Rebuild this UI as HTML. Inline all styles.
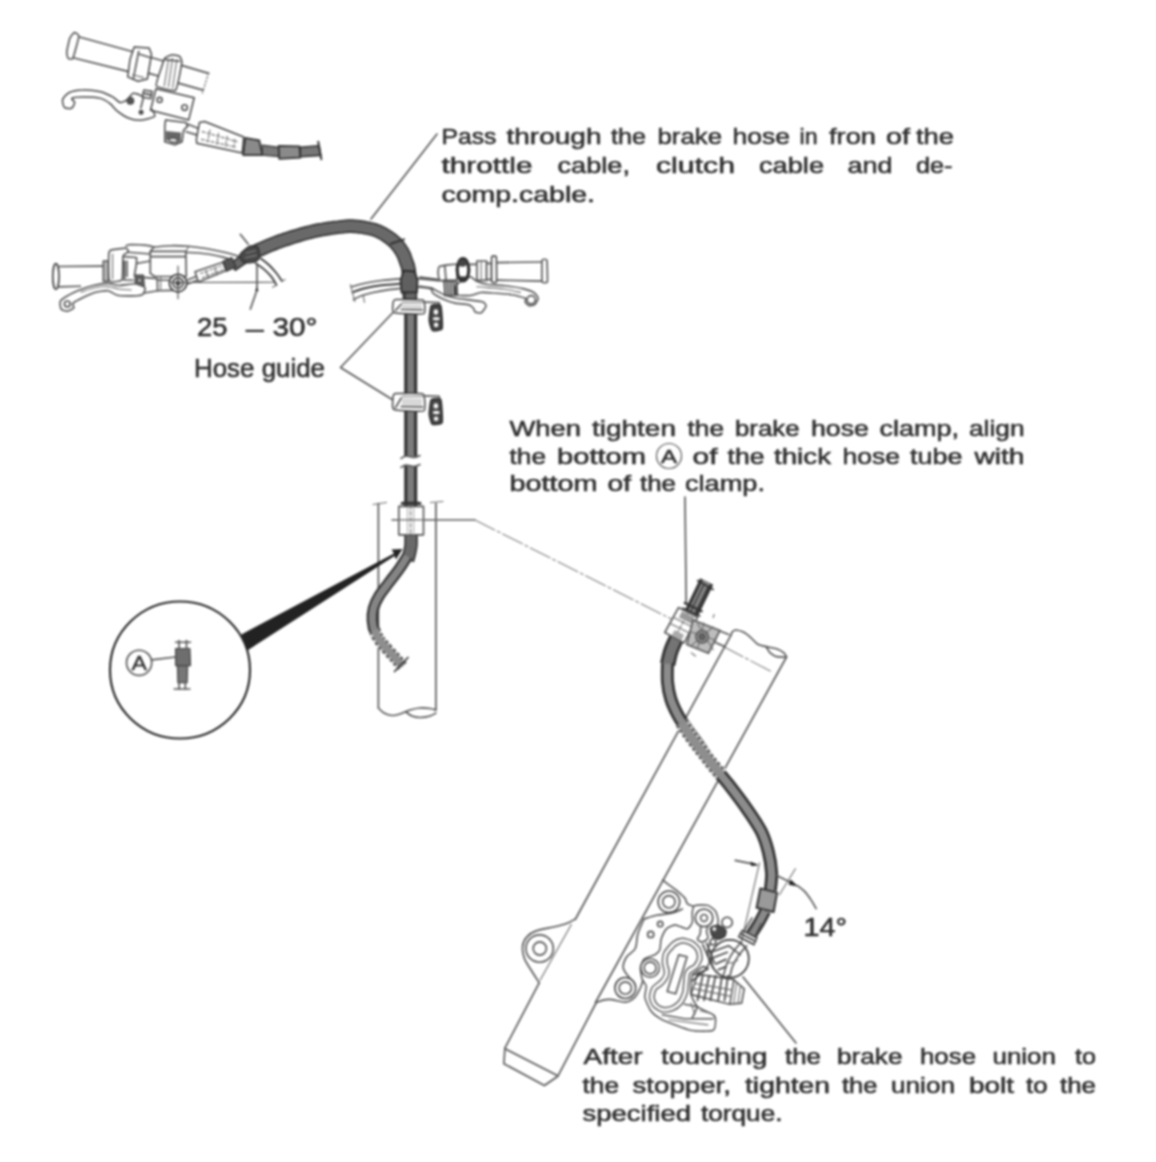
<!DOCTYPE html>
<html><head><meta charset="utf-8"><title>Brake hose routing</title>
<style>
html,body{margin:0;padding:0;background:#fff;}
body{width:1156px;height:1162px;overflow:hidden;font-family:"Liberation Sans",sans-serif;}
svg{display:block;filter:blur(0.8px);}
text{font-family:"Liberation Sans",sans-serif;fill:#2e2e2e;stroke:#2e2e2e;stroke-width:0.55px;}
.bt text{font-size:22px;}
.l{fill:none;stroke:#565656;stroke-width:1.65;vector-effect:non-scaling-stroke;stroke-linecap:round;stroke-linejoin:round;}
.lw{fill:#fff;stroke:#565656;stroke-width:1.65;vector-effect:non-scaling-stroke;stroke-linecap:round;stroke-linejoin:round;}
.d{fill:none;stroke:#333;stroke-width:1.7;vector-effect:non-scaling-stroke;stroke-linecap:round;stroke-linejoin:round;}
.t{fill:none;stroke:#6a6a6a;stroke-width:1.1;vector-effect:non-scaling-stroke;stroke-linecap:round;}
.g{fill:#777;stroke:#444;stroke-width:1.2;vector-effect:non-scaling-stroke;stroke-linejoin:round;}
.ho{fill:none;stroke:#3c3c3c;vector-effect:non-scaling-stroke;stroke-linecap:butt;stroke-linejoin:round;}
.hi{fill:none;stroke:#777;vector-effect:non-scaling-stroke;stroke-linecap:butt;stroke-linejoin:round;}
.k{fill:#222;stroke:none;}
</style></head><body>
<svg width="1156" height="1162" viewBox="0 0 1156 1162">
<rect width="1156" height="1162" fill="#fff"/>
<!-- draw_main.svgfrag -->
<path class="l" d="M437.0,134.0 L371.0,219.0" />
<path class="l" d="M393.5,312.0 L340.5,367.5 L393.0,400.0" />
<path class="l" d="M685.0,497.0 L686.2,604.0" />
<path class="l" d="M743.0,977.0 L796.0,1043.0" />
<path class="t" d="M392.0,520.0 L475.0,520.0" />
<path class="t" d="M475.0,520.0 L600.0,583.0 L668.5,617.6" stroke-dasharray="22 3 3 3" style="stroke:#808080"/>
<path class="t" d="M668.5,617.6 L772.0,672.0" stroke-dasharray="22 3 3 3" style="stroke:#808080"/>
<path class="l" d="M378.4,503.5 L378.4,708.0" />
<path class="l" d="M435.9,503.5 L435.9,710.0" />
<path class="t" d="M373.0,504.5 L386.5,502.5" />
<path class="t" d="M430.5,502.5 L443.0,501.5" />
<path class="l" d="M378.4,708.0 C379.3,708.8 381.7,711.8 384.0,713.0 C386.3,714.2 389.3,715.3 392.0,715.5 C394.7,715.7 397.0,714.9 400.0,714.0 C403.0,713.1 406.7,711.0 410.0,710.0 C413.3,709.0 416.7,708.2 420.0,708.0 C423.3,707.8 427.4,708.2 430.0,708.5 C432.6,708.8 434.9,709.8 435.9,710.0" />
<path class="l" d="M406.0,712.0 C407.0,712.7 409.7,715.1 412.0,716.0 C414.3,716.9 417.0,717.5 420.0,717.5 C423.0,717.5 427.4,716.8 430.0,716.0 C432.6,715.2 434.9,713.5 435.9,713.0" />
<path class="l" d="M731.0,635.2 L575.2,919.5" />
<path class="l" d="M539.2,982.8 L504.9,1048.2" />
<path class="l" d="M786.5,657.0 L595.5,1002.5" />
<path class="l" d="M731.0,635.2 C731.2,634.6 731.6,632.6 732.5,631.7 C733.3,630.8 734.2,630.0 736.0,630.0 C737.8,630.1 740.8,630.9 743.3,632.1 C745.7,633.3 748.1,635.3 750.5,637.3 C752.9,639.3 755.2,642.6 757.8,644.2 C760.4,645.7 763.0,645.9 766.1,646.6 C769.2,647.4 773.5,647.7 776.5,648.7 C779.4,649.8 782.3,651.5 783.9,652.9 C785.6,654.3 786.0,656.3 786.4,657.0" />
<path class="l" d="M766.1,646.6 C766.8,647.7 768.5,651.2 770.2,652.9 C772.0,654.5 773.8,655.9 776.5,656.6 C779.2,657.3 784.8,657.0 786.4,657.0" />
<path class="l" d="M504.9,1048.2 L503.9,1063.7 L544.4,1085.5 L557.9,1076.2 L596.3,1002.5" />
<path class="l" d="M506.0,1049.2 L556.8,1075.2" />
<path class="l" d="M574.5,919.4 C573.3,920.1 570.5,922.0 567.2,923.2 C563.9,924.4 559.9,925.4 554.7,926.7 C549.5,928.0 540.7,929.1 536.1,930.9 C531.4,932.6 529.0,934.5 526.7,937.1 C524.5,939.7 522.9,942.8 522.6,946.4 C522.2,950.1 523.1,954.7 524.6,958.9 C526.2,963.0 529.5,967.4 531.9,971.3 C534.3,975.3 538.0,980.9 539.2,982.8" />
<path class="t" d="M571.3,924.6 L540.2,980.1" />
<circle class="l" cx="539.6" cy="948.5" r="13.7" />
<circle class="l" cx="539.8" cy="948.5" r="6.6" />
<path d="M235.4,270.2 L235.9,269.9 L236.6,269.4 L237.3,268.9 L238.1,268.3 L239.0,267.7 L239.9,267.1 L240.8,266.4 L241.8,265.7 L242.8,265.0 L243.8,264.4 L244.7,263.8 L245.6,263.2 L246.6,262.6 L247.5,262.1 L248.3,261.7 L249.1,261.2 L249.9,260.9 L250.6,260.5 L251.4,260.1 L252.2,259.7 L253.1,259.4 L254.2,258.9 L255.4,258.4 L256.8,257.9 L258.3,257.1 L260.0,256.3 L261.9,255.5 L263.9,254.6 L266.0,253.6 L268.1,252.7 L270.4,251.8 L272.7,250.8 L275.0,249.9 L277.4,248.9 L279.7,248.0 L282.1,247.2 L284.5,246.3 L287.1,245.4 L289.7,244.6 L292.4,243.7 L295.2,242.8 L298.0,241.9 L300.7,241.1 L303.5,240.3 L306.2,239.5 L308.9,238.8 L311.5,238.1 L313.9,237.5 L316.3,236.9 L318.7,236.4 L321.1,235.9 L323.5,235.5 L325.9,235.1 L328.3,234.7 L330.5,234.3 L332.8,234.0 L334.9,233.7 L336.9,233.4 L338.9,233.2 L340.7,233.0 L342.4,232.8 L343.8,232.6 L345.1,232.5 L346.3,232.4 L347.4,232.3 L348.3,232.2 L349.3,232.2 L350.2,232.2 L351.1,232.2 L352.2,232.2 L353.3,232.3 L354.5,232.4 L355.9,232.5 L357.3,232.6 L358.8,232.8 L360.3,233.0 L361.9,233.2 L363.4,233.5 L365.0,233.8 L366.5,234.0 L367.9,234.3 L369.3,234.7 L370.6,235.0 L371.8,235.3 L372.8,235.6 L373.8,235.9 L374.6,236.3 L375.5,236.6 L376.3,237.0 L377.0,237.4 L377.8,237.8 L378.5,238.2 L379.3,238.6 L380.1,239.1 L380.9,239.6 L381.8,240.1 L382.6,240.7 L383.4,241.2 L384.2,241.8 L385.0,242.4 L385.8,243.0 L386.6,243.6 L387.3,244.2 L388.1,244.8 L388.8,245.4 L389.4,246.0 L390.1,246.6 L390.7,247.2 L391.3,247.8 L391.8,248.4 L392.4,249.1 L392.9,249.7 L393.4,250.4 L393.9,251.1 L394.4,251.8 L394.9,252.5 L395.3,253.2 L395.8,253.9 L396.2,254.6 L396.6,255.3 L396.9,255.9 L397.3,256.5 L397.6,257.1 L397.8,257.7 L398.1,258.4 L398.4,259.0 L398.6,259.7 L398.9,260.4 L399.1,261.1 L399.4,261.8 L399.7,262.6 L399.9,263.5 L400.3,264.4 L400.6,265.2 L400.8,265.9 L401.1,266.5 L401.3,267.0 L401.4,267.5 L401.6,268.0 L401.7,268.6 L401.9,269.3 L402.0,270.2 L402.2,271.3 L402.3,272.6 L402.5,274.3 L402.6,276.4 L402.7,278.8 L402.9,281.4 L403.0,284.1 L403.1,286.9 L403.2,289.6 L403.2,292.3 L403.3,294.8 L403.4,297.0 L403.5,298.8 L403.5,300.2 L416.5,299.8 L416.4,298.4 L416.4,296.5 L416.3,294.4 L416.2,291.9 L416.2,289.2 L416.1,286.4 L416.0,283.6 L415.8,280.8 L415.7,278.1 L415.6,275.6 L415.4,273.3 L415.3,271.4 L415.1,269.7 L414.9,268.2 L414.6,266.9 L414.4,265.7 L414.1,264.6 L413.8,263.6 L413.5,262.7 L413.2,261.9 L413.0,261.2 L412.7,260.6 L412.5,260.0 L412.3,259.3 L412.0,258.5 L411.7,257.7 L411.4,256.8 L411.1,256.0 L410.8,255.1 L410.5,254.2 L410.1,253.3 L409.7,252.4 L409.3,251.5 L408.8,250.6 L408.3,249.7 L407.8,248.7 L407.3,247.9 L406.7,247.0 L406.2,246.1 L405.6,245.2 L404.9,244.3 L404.3,243.4 L403.6,242.5 L402.9,241.6 L402.1,240.8 L401.4,239.9 L400.6,239.0 L399.7,238.2 L398.8,237.4 L398.0,236.6 L397.0,235.8 L396.1,235.0 L395.1,234.3 L394.2,233.6 L393.2,232.9 L392.2,232.2 L391.2,231.5 L390.2,230.9 L389.2,230.2 L388.2,229.7 L387.3,229.1 L386.3,228.6 L385.4,228.0 L384.4,227.5 L383.4,227.0 L382.4,226.5 L381.3,226.0 L380.2,225.5 L379.0,225.0 L377.7,224.6 L376.4,224.1 L375.0,223.7 L373.6,223.3 L372.0,223.0 L370.4,222.6 L368.8,222.3 L367.1,222.0 L365.4,221.7 L363.7,221.4 L362.0,221.1 L360.3,220.9 L358.6,220.7 L357.0,220.5 L355.5,220.4 L354.0,220.3 L352.7,220.2 L351.5,220.2 L350.2,220.2 L349.0,220.2 L347.8,220.2 L346.6,220.3 L345.3,220.4 L344.0,220.5 L342.5,220.7 L341.0,220.8 L339.3,221.0 L337.4,221.3 L335.5,221.5 L333.3,221.7 L331.1,222.0 L328.8,222.3 L326.4,222.7 L324.0,223.0 L321.5,223.5 L318.9,223.9 L316.3,224.4 L313.7,224.9 L311.1,225.5 L308.4,226.2 L305.7,226.9 L302.9,227.6 L300.1,228.4 L297.2,229.2 L294.4,230.1 L291.5,230.9 L288.6,231.8 L285.8,232.7 L283.1,233.6 L280.5,234.5 L277.9,235.4 L275.4,236.3 L272.9,237.3 L270.4,238.2 L267.9,239.2 L265.5,240.2 L263.2,241.2 L260.9,242.2 L258.8,243.2 L256.7,244.1 L254.7,245.0 L252.9,245.9 L251.2,246.7 L249.7,247.6 L248.4,248.5 L247.2,249.4 L246.1,250.2 L245.2,251.0 L244.4,251.8 L243.6,252.5 L242.9,253.2 L242.3,253.9 L241.7,254.5 L241.1,255.2 L240.4,255.8 L239.5,256.5 L238.6,257.3 L237.6,258.0 L236.6,258.8 L235.7,259.6 L234.7,260.3 L233.8,261.0 L233.0,261.7 L232.3,262.4 L231.6,262.9 L231.0,263.4 L230.6,263.8Z" fill="#696969" stroke="#333333" stroke-width="1.7" stroke-linejoin="round"/>
<path class="d" d="M390.8,243.8 L404.0,239.4" style="stroke-width:2"/>
<path class="ho" d="M410.7,312.0 L410.7,395.0" stroke-width="13" style="stroke:#333333"/><path class="hi" d="M410.7,312.0 L410.7,395.0" stroke-width="6.8" style="stroke:#7c7c7c"/>
<path class="ho" d="M410.7,410.0 L410.7,456.5" stroke-width="13" style="stroke:#333333"/><path class="hi" d="M410.7,410.0 L410.7,456.5" stroke-width="6.8" style="stroke:#7c7c7c"/>
<path class="ho" d="M410.7,466.0 L410.7,506.0" stroke-width="13" style="stroke:#333333"/><path class="hi" d="M410.7,466.0 L410.7,506.0" stroke-width="6.8" style="stroke:#7c7c7c"/>
<path class="l" d="M401.0,458.5 C401.8,458.1 403.8,456.2 406.0,456.0 C408.2,455.8 411.7,457.6 414.0,457.5 C416.3,457.4 419.0,455.8 420.0,455.5" />
<path class="l" d="M401.0,467.5 C401.8,467.1 403.8,465.2 406.0,465.0 C408.2,464.8 411.7,466.6 414.0,466.5 C416.3,466.4 419.0,464.8 420.0,464.5" />
<path class="ho" d="M411.0,534.5 C411.0,536.3 411.2,541.8 411.0,544.9 C410.8,548.0 410.1,550.6 409.5,553.2 C409.0,555.8 407.8,559.3 407.5,560.5" stroke-width="13.5" style="stroke:#333333"/><path class="hi" d="M411.0,534.5 C411.0,536.3 411.2,541.8 411.0,544.9 C410.8,548.0 410.1,550.6 409.5,553.2 C409.0,555.8 407.8,559.3 407.5,560.5" stroke-width="10.1" style="stroke:#696969"/>
<path class="ho" d="M407.5,556.0 C406.1,558.2 402.3,564.6 399.2,569.0 C396.1,573.4 392.5,577.9 389.1,582.4 C385.8,586.9 381.7,591.6 379.1,595.9 C376.5,600.2 374.6,604.1 373.5,608.2 C372.4,612.3 372.1,616.4 372.4,620.5 C372.7,624.6 373.3,628.7 375.2,632.8 C377.1,636.9 380.4,641.0 383.6,645.1 C386.9,649.2 391.6,653.9 394.7,657.4 C397.8,660.9 401.0,664.7 402.3,666.2" stroke-width="11.5" style="stroke:#333333"/><path class="hi" d="M407.5,556.0 C406.1,558.2 402.3,564.6 399.2,569.0 C396.1,573.4 392.5,577.9 389.1,582.4 C385.8,586.9 381.7,591.6 379.1,595.9 C376.5,600.2 374.6,604.1 373.5,608.2 C372.4,612.3 372.1,616.4 372.4,620.5 C372.7,624.6 373.3,628.7 375.2,632.8 C377.1,636.9 380.4,641.0 383.6,645.1 C386.9,649.2 391.6,653.9 394.7,657.4 C397.8,660.9 401.0,664.7 402.3,666.2" stroke-width="7.1" style="stroke:#858585"/>
<path class="ho" d="M706.7,581.5 L691.3,613.4" stroke-width="14.5" style="stroke:#333333"/><path class="hi" d="M706.7,581.5 L691.3,613.4" stroke-width="8.5" style="stroke:#858585"/>
<path class="ho" d="M676.4,638.3 C675.5,640.4 672.5,646.5 671.0,650.8 C669.5,655.1 668.2,662.0 667.7,664.3" stroke-width="15.5" style="stroke:#333333"/><path class="hi" d="M676.4,638.3 C675.5,640.4 672.5,646.5 671.0,650.8 C669.5,655.1 668.2,662.0 667.7,664.3" stroke-width="9.9" style="stroke:#747474"/>
<path class="ho" d="M667.5,663.3 C667.5,666.4 667.0,676.1 667.5,681.9 C668.0,687.8 668.9,693.0 670.6,698.5 C672.3,704.1 675.1,710.0 677.9,715.2 C680.6,720.3 684.0,725.0 687.2,729.7 C690.4,734.3 693.3,737.8 697.0,743.0 C700.7,748.2 704.1,754.0 709.3,760.8 C714.4,767.5 721.7,775.6 728.0,783.6 C734.2,791.6 741.1,800.6 746.6,808.5 C752.2,816.5 757.5,824.1 761.2,831.3 C764.8,838.6 766.7,845.2 768.4,852.1 C770.2,859.0 771.2,866.5 771.6,872.9 C771.9,879.3 770.5,887.6 770.3,890.5" stroke-width="13" style="stroke:#333333"/><path class="hi" d="M667.5,663.3 C667.5,666.4 667.0,676.1 667.5,681.9 C668.0,687.8 668.9,693.0 670.6,698.5 C672.3,704.1 675.1,710.0 677.9,715.2 C680.6,720.3 684.0,725.0 687.2,729.7 C690.4,734.3 693.3,737.8 697.0,743.0 C700.7,748.2 704.1,754.0 709.3,760.8 C714.4,767.5 721.7,775.6 728.0,783.6 C734.2,791.6 741.1,800.6 746.6,808.5 C752.2,816.5 757.5,824.1 761.2,831.3 C764.8,838.6 766.7,845.2 768.4,852.1 C770.2,859.0 771.2,866.5 771.6,872.9 C771.9,879.3 770.5,887.6 770.3,890.5" stroke-width="7.6" style="stroke:#8c8c8c"/>
<path class="g" d="M760.4,888.4 L777.1,892.6 L773.6,912.0 L756.6,907.8Z" style="fill:#9a9a9a;stroke:#333;stroke-width:2"/>
<path class="ho" d="M765.3,910.7 C764.4,912.5 761.9,917.6 759.5,921.7 C757.2,925.7 752.6,932.6 751.2,934.7" stroke-width="12" style="stroke:#333333"/><path class="hi" d="M765.3,910.7 C764.4,912.5 761.9,917.6 759.5,921.7 C757.2,925.7 752.6,932.6 751.2,934.7" stroke-width="7.0" style="stroke:#8a8a8a"/>
<path d="M681.5,722.5 C682.9,724.7 686.9,731.1 690.0,735.5 C693.1,739.9 696.7,744.5 700.0,748.8 C703.3,753.1 706.5,757.2 710.0,761.5 C713.5,765.8 719.2,772.3 721.0,774.5" fill="none" stroke="#fff" stroke-width="13.6"/><path d="M681.5,722.5 C682.9,724.7 686.9,731.1 690.0,735.5 C693.1,739.9 696.7,744.5 700.0,748.8 C703.3,753.1 706.5,757.2 710.0,761.5 C713.5,765.8 719.2,772.3 721.0,774.5" fill="none" stroke="#444" stroke-width="13" stroke-dasharray="3.2 2.2"/><path d="M681.5,722.5 C682.9,724.7 686.9,731.1 690.0,735.5 C693.1,739.9 696.7,744.5 700.0,748.8 C703.3,753.1 706.5,757.2 710.0,761.5 C713.5,765.8 719.2,772.3 721.0,774.5" fill="none" stroke="#8e8e8e" stroke-width="9.4"/>
<path d="M374.6,630.0 C375.2,631.4 377.0,636.0 378.5,638.5 C380.0,641.0 380.9,642.0 383.6,645.1 C386.3,648.2 391.6,653.9 394.7,657.4 C397.8,660.9 401.0,664.7 402.3,666.2" fill="none" stroke="#fff" stroke-width="12.1"/><path d="M374.6,630.0 C375.2,631.4 377.0,636.0 378.5,638.5 C380.0,641.0 380.9,642.0 383.6,645.1 C386.3,648.2 391.6,653.9 394.7,657.4 C397.8,660.9 401.0,664.7 402.3,666.2" fill="none" stroke="#444" stroke-width="11.5" stroke-dasharray="3.2 2.2"/><path d="M374.6,630.0 C375.2,631.4 377.0,636.0 378.5,638.5 C380.0,641.0 380.9,642.0 383.6,645.1 C386.3,648.2 391.6,653.9 394.7,657.4 C397.8,660.9 401.0,664.7 402.3,666.2" fill="none" stroke="#8e8e8e" stroke-width="7.9"/>
<path class="d" d="M394.5,671.5 L408.0,657.5" />
<ellipse cx="180" cy="670" rx="70" ry="68.5" fill="none" stroke="#2b2b2b" stroke-width="2.2"/>
<path class="k" d="M241.3,634.5 L394,553.5 L391.5,549.5 L402.5,549 L396,559.5 L394.5,556 L247.3,650.5 Z"/>
<!-- draw_tl.svgfrag -->
<path class="l" d="M78.5,36.8 L133.9,52.0" />
<path class="l" d="M73.0,57.8 L127.7,71.4" />
<path class="lw" d="M74.4,32.6 C75.3,32.4 78.7,34.5 78.8,36.1 C78.9,37.7 76.4,46.3 75.8,48.5 C75.2,50.8 73.5,57.5 72.7,58.5 C72.0,59.5 68.7,58.9 68.1,58.2 C67.6,57.6 66.6,54.0 66.8,52.0 C66.9,50.0 69.2,40.1 69.9,38.1 C70.7,36.2 73.5,32.8 74.4,32.6Z" />
<path class="l" d="M151.2,57.5 L164.3,61.3" />
<path class="l" d="M149.1,73.4 L160.2,76.5" />
<path class="l" d="M181.6,65.4 L208.6,73.4" />
<path class="l" d="M178.2,83.1 L203.1,90.1" />
<path class="t" d="M208.6,72.8 L202.4,93.1" stroke-dasharray="2 2"/>
<path class="lw" d="M134.2,47.1 L149.1,48.0 L151.5,54.3 L147.3,79.0 L138.0,81.2 L127.7,76.9 L130.0,59.6Z" style="stroke:#444;stroke-width:1.5"/>
<path class="l" d="M138.7,51.3 L133.2,79.3" />
<path class="l" d="M139.7,54.3 L150.8,57.7" />
<path class="t" d="M132.5,74.8 L143.6,77.6" />
<path class="lw" d="M164.6,58.5 C165.3,57.6 170.3,55.0 171.3,54.9 C172.3,54.7 178.9,55.8 179.6,56.3 C180.3,56.8 182.0,60.4 181.8,62.6 C181.5,64.9 177.4,88.5 175.7,90.1 C174.0,91.6 157.3,87.4 156.3,85.9 C155.4,84.4 160.7,69.7 161.3,67.9 C161.9,66.1 164.0,59.4 164.6,58.5Z" style="stroke:#444;stroke-width:1.5"/>
<path class="t" d="M168.5,59.6 L164.3,85.9" />
<path class="t" d="M172.6,58.2 L168.5,86.6" />
<path class="t" d="M176.8,59.6 L172.6,88.0" />
<path class="l" d="M165.7,59.6 L179.6,61.3" />
<path class="lw" d="M143.9,90.1 L152.2,91.4 L150.8,98.6 L142.2,97.0Z" />
<path class="d" d="M144.3,93.5 L151.2,94.9" />
<path class="lw" d="M156.0,88.7 L194.2,97.8 L188.7,119.9 L150.5,110.3Z" style="stroke:#444;stroke-width:1.5"/>
<circle class="l" cx="159.6" cy="99.9" r="2.5" />
<circle class="l" cx="184.6" cy="107.5" r="2.8" />
<path class="l" d="M138.0,94.2 C137.4,94.1 134.0,92.7 132.8,93.4 C131.5,94.0 128.7,98.7 127.2,99.7 C125.8,100.8 121.7,102.8 120.1,102.5 C118.4,102.2 115.4,98.5 113.1,97.2 C110.9,96.0 104.2,92.6 100.7,91.7 C97.1,90.9 86.4,89.9 82.7,90.1 C79.0,90.2 71.2,91.7 68.8,92.8 C66.5,94.0 63.1,98.0 62.6,99.7 C62.1,101.4 63.4,106.4 64.4,107.4 C65.5,108.4 70.4,108.9 71.6,108.3 C72.8,107.8 74.6,103.7 74.7,102.5 C74.7,101.3 70.9,99.0 71.9,98.4 C72.8,97.7 79.3,97.0 82.7,97.0 C86.0,97.0 97.4,97.5 100.7,98.4 C103.9,99.2 108.4,102.4 110.4,103.9 C112.3,105.4 115.2,109.4 117.3,111.1 C119.4,112.7 125.6,116.9 128.4,118.0 C131.1,119.1 137.7,120.4 140.8,120.2 C143.9,120.0 153.4,117.6 154.7,116.3 C155.9,115.1 152.2,110.2 151.9,109.4" style="stroke:#444;stroke-width:1.5"/>
<circle class="g" cx="130.4" cy="100.8" r="3.3" style="fill:#555"/>
<circle class="g" cx="141.1" cy="112.2" r="1.9" style="fill:#555"/>
<path class="l" d="M138.0,94.2 L143.6,97.0 L140.8,108.0" />
<path class="lw" d="M165.6,119.9 L185.8,122.4 L187.7,126.1 L183.6,130.2 L182.1,141.7 L174.9,144.8 L164.8,141.7 L164.8,126.1Z" style="stroke:#444;stroke-width:1.5"/>
<path class="g" d="M165.9,131.1 L181.1,132.4 L180.8,141.7 L165.9,140.2Z" style="fill:#666;stroke:none"/>
<ellipse class="lw" cx="173.4" cy="140.2" rx="4.4" ry="2.0" transform="rotate(8 173.4 140.2)" />
<path class="l" d="M187.4,124.0 L198.6,128.6" />
<path class="l" d="M186.1,131.7 L196.7,134.9" />
<path class="lw" d="M199.5,122.4 L204.5,121.5 L243.7,137.0 L242.2,152.9 L196.7,143.3 L196.4,138.9Z" style="stroke:#444;stroke-width:1.5"/>
<path class="t" d="M210.0,130.0 L207.6,141.7" stroke-dasharray="3 2"/>
<path class="t" d="M218.5,133.2 L217.0,144.1" stroke-dasharray="3 2"/>
<path class="t" d="M227.1,136.3 L225.5,146.4" stroke-dasharray="3 2"/>
<path class="t" d="M234.9,139.4 L233.8,148.7" stroke-dasharray="3 2"/>
<path class="t" d="M202.2,131.6 L237.2,141.7" stroke-dasharray="3 2"/>
<path class="t" d="M201.4,139.4 L235.6,147.2" stroke-dasharray="3 2"/>
<path class="g" d="M245.3,137.8 L259.3,140.5 L262.4,155.1 L243.1,155.1Z" style="fill:#8a8a8a;stroke:#333;stroke-width:1.8"/>
<path class="g" d="M262.1,145.1 L279.2,147.3 L279.2,156.7 L262.4,155.1Z" style="fill:#7a7a7a;stroke:#333"/>
<path class="g" d="M278.6,145.8 L299.5,146.4 L300.4,157.6 L279.2,158.8Z" style="fill:#8a8a8a;stroke:#333;stroke-width:1.8"/>
<path class="g" d="M300.3,147.3 L319.1,145.8 L320.7,155.4 L300.4,156.7Z" style="fill:#777;stroke:#333;stroke-width:1.6"/>
<path class="d" d="M318.2,141.7 L321.3,159.2" style="stroke-width:2"/>
<!-- draw_ml.svgfrag -->
<path class="l" d="M153.8,247.1 C156.7,246.9 165.3,245.9 171.1,245.7 C176.9,245.6 182.6,245.8 188.4,246.2 C194.2,246.7 199.9,247.5 205.7,248.5 C211.5,249.4 217.5,250.7 223.0,252.0 C228.5,253.2 236.0,255.4 238.6,256.1" />
<path class="l" d="M185.8,252.3 C189.1,252.5 199.5,252.9 205.7,253.7 C211.9,254.5 218.4,256.0 223.0,257.1 C227.6,258.3 231.7,260.0 233.4,260.6" />
<ellipse class="lw" cx="55.9" cy="276.5" rx="3.1" ry="12.8" transform="rotate(0 55.9 276.5)" style="stroke:#444;stroke-width:1.7"/>
<path class="l" d="M57.8,266.5 L102.8,266.1" />
<path class="l" d="M57.8,286.9 L80.3,286.2" />
<path class="lw" d="M103.3,261.0 L108.0,261.0 L108.0,281.4 L103.3,281.4Z" />
<path class="t" d="M105.4,261.0 L105.4,281.4" />
<path class="lw" d="M110.6,250.2 C112.0,249.7 124.7,248.0 126.1,248.1 C127.6,248.3 128.5,251.3 128.2,252.0 C127.9,252.6 123.5,253.8 123.0,256.1 C122.5,258.4 123.0,277.5 122.0,279.6 C121.0,281.8 112.0,281.8 110.9,281.7 C109.8,281.6 109.0,280.6 108.8,278.3 C108.7,275.9 108.7,256.4 108.8,254.0 C109.0,251.7 109.1,250.7 110.6,250.2Z" />
<path class="t" d="M112.6,254.0 L112.6,279.1" />
<path class="l" d="M126.1,245.7 C127.0,245.5 127.9,244.6 131.3,244.5 C134.8,244.5 143.1,244.9 146.9,245.4 C150.6,245.8 152.7,246.8 153.8,247.1" />
<path class="l" d="M128.2,252.3 L150.3,254.0" />
<path class="l" d="M123.5,256.6 L136.5,257.5 L136.5,263.5 L150.3,261.0" />
<path class="d" d="M124.4,261.0 L124.4,278.3" />
<path class="l" d="M127.0,261.0 L127.0,276.5" />
<path class="l" d="M136.5,263.5 L134.4,275.7" />
<path class="l" d="M123.5,280.0 L133.0,280.3" />
<path class="lw" d="M150.3,251.4 L185.8,251.4 L186.3,276.5 L154.7,276.5 L150.3,273.4Z" />
<path class="l" d="M151.2,256.6 L185.3,256.6" />
<path class="l" d="M153.8,247.1 L150.3,251.4" />
<path class="t" d="M185.8,251.4 L188.4,247.1" />
<path class="l" d="M143.4,277.4 L157.3,278.6 L157.6,290.7 L144.3,293.0" />
<path class="l" d="M157.6,280.0 L171.1,280.3" />
<path class="l" d="M157.6,290.7 L172.8,290.4" />
<path class="t" d="M160.7,277.4 L160.7,290.4" />
<path class="g" d="M135.1,275.1 L143.4,275.1 L144.3,286.0 L135.1,285.2Z" style="fill:#666"/>
<circle class="l" cx="139.6" cy="280.3" r="2.4" style="fill:#bbb"/>
<path class="lw" d="M144.3,286.9 C143.1,286.1 137.7,284.0 134.8,283.8 C131.8,283.6 122.3,285.6 119.2,285.5 C116.1,285.5 111.0,283.4 108.0,283.4 C104.9,283.4 96.8,284.7 93.3,285.5 C89.7,286.4 80.7,289.5 77.7,290.7 C74.7,291.9 69.3,294.7 67.3,295.9 C65.3,297.1 61.1,299.6 60.4,301.1 C59.7,302.6 60.3,307.9 61.1,309.0 C61.9,310.2 65.8,311.3 67.3,311.1 C68.8,311.0 73.2,308.6 73.9,307.7 C74.6,306.7 71.1,304.5 73.4,302.8 C75.6,301.1 89.2,294.4 93.3,293.0 C97.3,291.5 105.2,290.5 108.0,290.7 C110.7,291.0 114.3,294.4 116.6,295.0 C118.9,295.6 124.9,295.9 127.9,295.9 C130.8,295.9 139.7,295.7 141.7,295.0 C143.7,294.4 144.5,291.3 144.8,290.4 C145.1,289.4 145.5,287.7 144.3,286.9Z" />
<circle class="l" cx="67.3" cy="303.9" r="2.9" />
<path class="t" d="M81.1,292.1 C83.4,291.4 90.5,288.7 95.0,287.8 C99.5,286.8 103.9,286.4 108.0,286.6 C112.0,286.8 115.3,288.4 119.2,289.0 C123.1,289.6 129.3,289.8 131.3,290.0" />
<circle class="lw" cx="178.0" cy="283.1" r="8.7" style="stroke:#333"/>
<circle class="l" cx="178.0" cy="283.1" r="5.2" style="stroke:#333;stroke-width:1.6"/>
<circle class="g" cx="178.0" cy="283.1" r="2.1" style="fill:#555"/>
<path class="t" d="M178.0,266.1 L178.0,298.7" style="stroke:#444"/>
<path class="t" d="M170.0,282.5 L275.0,282.3" style="stroke:#555"/>
<path class="l" d="M186.7,280.3 L196.2,276.5" />
<path class="l" d="M187.0,284.3 L197.4,280.3" />
<path class="lw" d="M195.0,271.7 L223.0,262.3 L226.1,270.5 L198.4,282.1Z" />
<path class="t" d="M200.5,273.4 L221.3,266.1" stroke-dasharray="3 2"/>
<path class="t" d="M202.2,277.9 L223.0,269.6" stroke-dasharray="3 2"/>
<path class="t" d="M205.7,270.5 L208.3,278.3" />
<path class="t" d="M214.4,267.5 L217.0,275.1" />
<path class="g" d="M223.0,261.3 L231.7,257.5 L236.0,267.0 L226.5,271.3Z" style="fill:#555;stroke:#333"/>
<path class="d" d="M260.9,258.5 C262.4,259.6 266.9,263.0 269.5,265.5 C272.1,268.0 274.4,270.7 276.5,273.3 C278.6,275.9 281.0,279.8 282.0,281.1" style="stroke:#3a3a3a;stroke-width:1.8"/>
<path class="d" d="M255.5,263.2 C256.8,264.1 260.7,266.4 263.3,268.6 C265.9,270.8 268.9,273.7 271.1,276.4 C273.3,279.1 275.6,283.5 276.5,285.0" style="stroke:#3a3a3a;stroke-width:1.8"/>
<path class="t" d="M272.6,287.3 L276.5,285.0" />
<path class="t" d="M282.0,281.1 L285.1,279.5" />
<path class="l" d="M240.3,234.3 L248.1,244.1" />
<path class="l" d="M257.0,263.9 L257.0,287.3" />
<path class="k" d="M256.9,286.5 L258.6,291.2 L255.1,291.2Z"/>
<path class="l" d="M256.3,292.0 L250.4,309.1" />
<path class="g" d="M245.8,248.7 C246.8,247.9 249.2,246.0 250.4,245.9 C251.6,245.7 256.9,246.1 257.8,247.2 C258.8,248.3 259.9,255.5 259.8,256.9 C259.6,258.3 257.3,260.6 256.3,261.2 C255.3,261.8 251.1,262.8 249.6,262.8 C248.2,262.8 242.8,262.0 241.9,261.2 C240.9,260.4 239.5,255.8 239.9,254.6 C240.3,253.3 244.7,249.6 245.8,248.7Z" style="fill:#484848;stroke:#2e2e2e"/>
<path class="t" d="M246.1,253.0 L255.5,250.7" style="stroke:#888"/>
<path class="t" d="M245.4,257.7 L256.3,255.4" style="stroke:#888"/>
<!-- draw_mr.svgfrag -->
<path class="l" d="M351.4,286.9 C353.7,286.3 359.9,284.3 364.9,283.2 C369.9,282.1 375.3,281.2 381.5,280.5 C387.8,279.7 396.6,279.0 402.3,278.6 C408.0,278.3 409.5,278.1 415.8,278.4 C422.0,278.8 435.7,280.3 439.7,280.7" />
<path class="d" d="M352.5,292.3 C354.5,291.6 360.1,289.3 364.9,288.2 C369.8,287.0 375.3,286.0 381.5,285.3 C387.8,284.5 398.8,283.9 402.3,283.6" style="stroke:#3a3a3a;stroke-width:2"/>
<path class="l" d="M353.5,299.6 C355.1,298.9 358.2,296.7 362.8,295.2 C367.5,293.8 374.9,292.0 381.5,290.9 C388.1,289.7 398.8,288.6 402.3,288.2" />
<path class="l" d="M416.8,286.9 C418.2,287.1 422.4,287.3 425.1,287.8 C427.9,288.2 432.0,289.1 433.4,289.4" />
<path class="t" d="M350.4,284.6 L352.9,293.6" />
<path class="t" d="M352.9,294.4 L354.9,301.5" />
<path class="t" d="M363.3,296.1 L364.5,302.3" />
<path class="l" d="M420.0,277.1 L443.0,280.1" />
<path class="l" d="M420.0,286.2 L432.1,288.1" />
<path class="lw" d="M432.1,288.6 C433.2,288.7 441.8,293.7 444.2,294.7 C446.6,295.6 453.7,297.7 456.3,298.3 C459.0,298.8 468.2,299.7 470.9,300.1 C473.5,300.5 481.5,301.3 483.0,301.9 C484.5,302.5 486.2,305.1 486.0,306.2 C485.8,307.3 482.3,312.3 481.2,312.8 C480.1,313.4 475.9,312.3 475.1,311.9 C474.3,311.4 474.0,308.7 473.3,308.0 C472.6,307.3 470.3,305.1 468.4,304.6 C466.6,304.1 457.5,303.6 455.1,303.1 C452.7,302.6 446.4,300.5 444.2,299.5 C442.0,298.5 434.5,294.5 433.3,293.4 C432.1,292.4 431.0,288.5 432.1,288.6Z" />
<path class="lw" d="M469.7,276.7 C471.7,276.4 475.1,280.6 476.9,281.3 C478.7,282.1 485.0,284.0 487.8,284.5 C490.6,284.9 501.3,285.3 504.8,285.7 C508.3,286.1 520.0,287.9 522.9,288.6 C525.8,289.3 532.3,291.5 533.8,292.5 C535.4,293.4 538.0,297.1 538.1,298.3 C538.2,299.5 536.0,303.6 535.1,304.3 C534.1,305.1 530.0,305.8 529.0,305.6 C528.0,305.3 525.5,302.6 525.1,301.9 C524.8,301.2 526.7,299.0 525.4,298.3 C524.1,297.6 515.3,295.2 512.0,294.7 C508.8,294.1 495.8,293.2 492.7,293.0 C489.5,292.7 482.7,292.2 480.6,292.5 C478.4,292.7 473.3,295.1 470.9,295.4 C468.4,295.6 457.8,295.9 456.3,294.9 C454.9,293.9 455.0,286.8 456.3,285.0 C457.7,283.1 467.6,277.1 469.7,276.7Z" />
<circle class="lw" cx="531.2" cy="299.7" r="4.1" />
<path class="t" d="M476.9,286.8 C478.7,286.9 483.2,287.2 487.8,287.6 C492.5,288.0 499.3,288.4 504.8,289.2 C510.2,290.0 517.9,291.9 520.5,292.5" />
<path class="lw" d="M439.4,266.6 C440.6,266.0 455.2,263.5 456.3,264.4 C457.5,265.3 457.4,279.3 456.3,280.4 C455.2,281.4 441.2,280.8 440.0,280.4 C438.8,279.9 438.2,274.4 438.2,273.5 C438.1,272.5 438.2,267.2 439.4,266.6Z" />
<path class="l" d="M444.8,265.8 L446.0,280.1" />
<path class="d" d="M444.2,280.4 L445.2,295.3" style="stroke:#333;stroke-width:1.7"/>
<path class="d" d="M447.2,280.4 L448.2,295.3" style="stroke:#333;stroke-width:1.7"/>
<path class="d" d="M450.3,280.4 L451.2,295.3" style="stroke:#333;stroke-width:1.7"/>
<path class="d" d="M453.3,280.4 L454.3,295.3" style="stroke:#333;stroke-width:1.7"/>
<path class="d" d="M456.3,280.4 L457.3,295.3" style="stroke:#333;stroke-width:1.7"/>
<path class="l" d="M443.6,280.4 L456.9,280.4" />
<path class="l" d="M444.8,295.6 L457.5,295.3" />
<ellipse class="lw" cx="463.0" cy="269.8" rx="5.8" ry="11.1" transform="rotate(0 463.0 269.8)" style="stroke:#2e2e2e;stroke-width:3.2;fill:#fff"/>
<ellipse class="g" cx="462.4" cy="263.2" rx="4.2" ry="3.6" transform="rotate(0 462.4 263.2)" style="fill:#444;stroke:none"/>
<path class="d" d="M458.8,277.7 L467.8,277.7" style="stroke-width:2.5"/>
<path class="l" d="M469.7,264.4 L476.9,264.4" />
<path class="lw" d="M476.9,261.0 L486.6,261.0 L486.6,280.4 L476.9,280.4Z" />
<path class="lw" d="M486.6,263.4 L491.5,263.4 L491.5,279.6 L486.6,279.6Z" />
<path class="t" d="M481.2,261.3 L481.2,280.1" />
<path class="lw" d="M491.7,256.9 C491.9,255.9 496.1,255.9 496.3,256.9 C496.5,257.9 496.7,280.9 496.5,281.9 C496.4,282.9 491.9,282.9 491.7,281.9 C491.5,280.9 491.5,257.9 491.7,256.9Z" style="stroke:#444;stroke-width:1.6"/>
<path class="l" d="M496.8,262.6 L542.3,262.0" />
<path class="l" d="M496.8,280.1 L542.3,281.1" />
<path class="lw" d="M542.1,260.1 C542.3,259.0 546.7,259.0 546.9,260.1 C547.2,261.2 547.6,280.8 547.4,281.9 C547.2,283.0 542.3,283.0 542.1,281.9 C541.8,280.8 541.8,261.2 542.1,260.1Z" />
<path class="lw" d="M395.6,299.6 C397.6,299.4 421.2,299.1 423.0,300.0 C424.9,300.9 425.7,312.8 423.9,313.7 C422.0,314.6 397.7,313.1 395.6,312.9 C393.6,312.7 392.9,311.1 392.7,310.4 C392.6,309.7 393.0,303.2 393.1,302.5 C393.3,301.8 393.6,299.8 395.6,299.6Z" style="stroke:#444;stroke-width:1.5"/>
<path class="t" d="M402.3,302.5 L422.6,302.5" />
<path class="l" d="M401.2,309.5 L422.6,310.0" />
<path class="l" d="M395.6,310.4 L401.2,304.2" />
<path class="g" d="M402.3,304.2 L422.0,304.6 L422.0,309.1 L401.5,308.7Z" style="fill:#d8d8d8;stroke:none"/>
<path class="l" d="M423.9,302.1 L439.2,302.5 L440.1,307.9" />
<path class="lw" d="M431.3,305.8 C432.3,304.6 439.8,303.9 440.7,305.8 C441.6,307.7 442.8,326.6 442.1,328.6 C441.5,330.7 433.5,331.0 432.4,330.3 C431.3,329.6 429.4,322.4 429.3,320.3 C429.2,318.3 430.4,307.0 431.3,305.8Z" style="stroke:#2e2e2e;stroke-width:1.6;fill:#444"/>
<ellipse class="l" cx="435.9" cy="312.0" rx="2.3" ry="2.7" transform="rotate(0 435.9 312.0)" style="stroke:none;fill:#f4f4f4"/>
<ellipse class="l" cx="436.3" cy="318.7" rx="3.5" ry="1.7" transform="rotate(0 436.3 318.7)" style="stroke:none;fill:#f4f4f4"/>
<ellipse class="l" cx="436.1" cy="324.9" rx="2.3" ry="2.3" transform="rotate(0 436.1 324.9)" style="stroke:none;fill:#f4f4f4"/>
<path class="lw" d="M395.6,393.4 C397.6,393.3 421.2,392.7 423.0,393.8 C424.9,395.0 425.7,409.8 423.9,410.9 C422.0,411.9 397.7,410.3 395.6,410.0 C393.6,409.8 392.9,408.5 392.7,407.5 C392.6,406.6 393.0,397.3 393.1,396.3 C393.3,395.4 393.6,393.6 395.6,393.4Z" style="stroke:#444;stroke-width:1.5"/>
<path class="t" d="M402.3,396.3 L422.6,396.3" />
<path class="l" d="M401.2,406.7 L422.6,407.1" />
<path class="l" d="M395.6,407.5 L401.2,398.0" />
<path class="g" d="M402.3,398.0 L422.0,398.4 L422.0,406.3 L401.5,405.9Z" style="fill:#d8d8d8;stroke:none"/>
<path class="l" d="M423.9,395.9 L439.2,396.3 L440.1,401.7" />
<path class="lw" d="M431.3,399.7 C432.3,398.4 439.8,397.8 440.7,399.7 C441.6,401.6 442.8,420.4 442.1,422.5 C441.5,424.5 433.5,424.8 432.4,424.2 C431.3,423.5 429.4,416.2 429.3,414.2 C429.2,412.1 430.4,400.9 431.3,399.7Z" style="stroke:#2e2e2e;stroke-width:1.6;fill:#444"/>
<ellipse class="l" cx="435.9" cy="405.9" rx="2.3" ry="2.7" transform="rotate(0 435.9 405.9)" style="stroke:none;fill:#f4f4f4"/>
<ellipse class="l" cx="436.3" cy="412.5" rx="3.5" ry="1.7" transform="rotate(0 436.3 412.5)" style="stroke:none;fill:#f4f4f4"/>
<ellipse class="l" cx="436.1" cy="418.8" rx="2.3" ry="2.3" transform="rotate(0 436.1 418.8)" style="stroke:none;fill:#f4f4f4"/>
<path class="g" d="M403.7,270.7 L414.6,271.5 L417.5,280.0 L417.0,292.5 L401.5,292.5 L400.6,280.0Z" style="fill:#606060;stroke:#2a2a2a;stroke-width:1.8"/>
<path class="g" d="M404.8,292.9 L416.4,292.3 L416.0,299.2 L405.2,299.2Z" style="fill:#666;stroke:#2e2e2e"/>
<!-- draw_circle.svgfrag -->
<path class="d" d="M402.3,503.3 L419.9,503.3" style="stroke-width:3"/>
<path class="lw" d="M398.8,506.4 L423.5,506.4 L423.5,534.8 L398.8,534.8Z" />
<path class="t" d="M410.6,505.3 L410.6,536.5" stroke-dasharray="4 2"/>
<path class="t" d="M407.5,507.4 L407.5,534.4" style="stroke:#aaa"/>
<path class="t" d="M413.7,507.4 L413.7,534.4" style="stroke:#aaa"/>
<path class="t" d="M391.9,519.9 L474.9,519.9" />
<circle class="l" cx="139.1" cy="662.8" r="12.6" />
<text x="131.5" y="670" font-size="19.5" textLength="15.5" lengthAdjust="spacingAndGlyphs" style="stroke-width:0.3px">A</text>
<path class="l" d="M151.7,659.9 L175.6,657.0" />
<path class="l" d="M175.6,642.2 L190.5,642.2" />
<path class="l" d="M179.1,640.5 L179.1,648.5" />
<path class="l" d="M186.5,640.5 L186.5,648.5" />
<path class="g" d="M175.6,648.5 L189.9,648.5 L190.5,665.6 L175.6,665.6Z" style="fill:#6e6e6e"/>
<path class="g" d="M177.4,665.6 L187.6,665.6 L187.1,682.7 L177.9,682.7Z" style="fill:#777"/>
<path class="l" d="M179.1,682.7 L179.1,689.0" />
<path class="l" d="M185.3,682.7 L185.3,689.0" />
<path class="l" d="M174.2,689.0 L189.9,689.0" />
<!-- draw_right.svgfrag -->
<path class="d" d="M697.6,580.6 L713.1,589.5" />
<path class="t" d="M703.8,584.8 L690.9,611.3" style="stroke:#2a2a2a"/>
<path class="t" d="M708.0,586.9 L695.1,613.4" style="stroke:#2a2a2a"/>
<path class="d" d="M684.7,603.0 L701.7,611.3" style="stroke-width:2.2"/>
<path class="d" d="M683.0,608.2 L699.7,615.9" />
<path class="lw" d="M678.5,607.6 L697.6,617.2 L684.1,642.9 L664.8,632.5Z" />
<path class="t" d="M673.7,617.6 L692.4,626.9" />
<path class="t" d="M670.6,623.8 L689.3,633.1" />
<path class="t" d="M688.2,612.4 L674.7,637.9" stroke-dasharray="3 2"/>
<path class="g" d="M682.0,611.3 L694.5,617.6 L691.3,623.8 L678.9,617.6Z" style="fill:#999;stroke:none"/>
<path class="g" d="M674.7,630.0 L684.1,634.8 L681.4,640.4 L671.6,635.4Z" style="fill:#aaa;stroke:none"/>
<path class="lw" d="M693.0,620.1 L720.0,630.4 L708.4,653.3 L686.8,644.6Z" style="fill:#bdbdbd"/>
<path class="t" d="M697.6,623.8 L713.1,649.8" />
<path class="t" d="M713.1,626.9 L691.3,645.6" />
<path class="t" d="M703.8,622.8 L697.6,648.7" />
<path class="t" d="M691.3,632.1 L716.3,640.4" />
<circle class="l" cx="702.1" cy="636.7" r="6.2" style="fill:#9a9a9a"/>
<circle class="l" cx="702.1" cy="636.7" r="2.9" style="fill:#666"/>
<path class="l" d="M720.0,631.1 L728.7,634.6" />
<path class="l" d="M715.4,642.5 L724.6,646.6" />
<path class="t" d="M713.1,617.6 L714.2,614.5" />
<path class="t" d="M691.3,652.9 L695.5,656.0" />
<path class="l" d="M735.2,860.4 L756.0,864.6" />
<path class="k" d="M758.7,865.2 L750.4,861.5 L751.2,866.0Z"/>
<path class="t" d="M759.5,862.9 L740.0,947.6" />
<path class="l" d="M776.7,875.4 L793.4,883.7" />
<path class="k" d="M790.7,879.5 L798.1,886.4 L788.6,884.7Z"/>
<path class="t" d="M795.4,868.7 L779.4,894.7" />
<path class="l" d="M797.5,885.7 C798.7,886.7 802.5,889.2 804.8,891.6 C807.0,893.9 809.1,897.0 811.0,899.9 C812.9,902.7 815.3,907.1 816.2,908.6" />
<!-- draw_caliper.svgfrag -->
<path class="l" d="M596.3,1002.5 C598.3,1002.0 603.9,999.4 608.7,999.4 C613.6,999.3 621.0,1002.4 625.3,1002.1 C629.7,1001.7 632.2,999.7 634.7,997.3 C637.2,994.9 638.7,991.2 640.3,988.0 C641.8,984.7 643.4,979.3 644.0,977.6" />
<path class="l" d="M662.7,880.0 C663.6,880.7 665.8,882.6 667.9,884.2 C670.0,885.7 672.4,887.1 675.2,889.3 C677.9,891.6 682.4,895.2 684.5,897.6 C686.6,900.1 685.7,902.3 687.6,903.9 C689.5,905.4 694.5,906.5 695.9,907.0" />
<path class="l" d="M644.0,919.0 C646.1,918.4 652.0,916.3 656.5,915.3 C661.0,914.3 666.7,914.3 671.0,913.2 C675.3,912.2 680.5,909.8 682.4,909.1" />
<path class="l" d="M644.0,919.0 C643.0,921.5 639.2,929.1 637.8,934.0 C636.3,938.9 637.2,944.6 635.3,948.5 C633.4,952.4 628.4,953.9 626.4,957.2 C624.4,960.5 622.7,964.8 623.3,968.2 C623.8,971.6 628.4,976.0 629.5,977.6" />
<circle class="l" cx="668.9" cy="901.8" r="10.8" style="stroke:#444;stroke-width:1.5"/>
<circle class="l" cx="668.9" cy="901.8" r="6.2" />
<circle class="l" cx="625.3" cy="988.0" r="10.4" style="stroke:#444;stroke-width:1.5"/>
<circle class="l" cx="625.3" cy="988.0" r="6.2" />
<circle class="l" cx="660.2" cy="924.0" r="2.7" />
<circle class="l" cx="650.7" cy="934.4" r="3.1" />
<path class="lw" d="M694.9,905.6 C696.4,904.9 705.8,904.7 707.9,905.3 C709.9,905.9 714.6,909.8 715.6,911.4 C716.7,913.0 718.2,919.0 718.2,921.1 C718.2,923.3 716.4,930.7 715.6,932.8 C714.9,934.9 711.2,940.1 710.4,941.9 C709.7,943.7 708.0,948.9 707.9,951.0 C707.7,953.1 709.7,960.5 709.2,962.7 C708.6,964.9 704.4,971.7 702.7,973.0 C701.0,974.3 693.5,973.6 692.3,975.6 C691.1,977.7 690.5,990.7 691.0,993.8 C691.5,996.9 695.3,1004.7 697.5,1006.8 C699.7,1008.9 711.2,1013.3 713.0,1014.6 C714.9,1015.9 715.6,1018.2 715.6,1019.8 C715.6,1021.3 715.5,1029.3 713.0,1030.4 C710.6,1031.5 696.0,1031.5 691.0,1030.4 C685.9,1029.3 666.5,1021.7 662.4,1019.8 C658.4,1017.8 652.5,1012.9 650.8,1010.7 C649.0,1008.5 645.4,1000.2 644.9,997.7 C644.5,995.2 646.5,987.8 646.2,986.0 C646.0,984.2 642.9,981.3 642.3,979.5 C641.7,977.7 640.2,969.9 640.4,967.9 C640.6,965.8 642.8,960.1 644.3,958.8 C645.7,957.5 653.1,955.8 654.7,954.9 C656.2,954.0 659.2,951.2 659.8,949.7 C660.5,948.1 660.5,941.4 661.1,939.3 C661.8,937.2 664.9,930.4 666.3,928.9 C667.8,927.5 673.3,925.0 675.4,925.0 C677.5,925.0 685.4,929.2 687.1,928.9 C688.8,928.7 691.8,924.1 692.3,922.4 C692.8,920.8 692.0,913.7 692.3,912.1 C692.5,910.4 693.3,906.2 694.9,905.6Z" style="stroke:#444;stroke-width:1.4"/>
<path class="lw" d="M672.8,941.9 C674.9,940.3 679.6,938.4 681.9,938.3 C684.2,938.1 690.2,939.7 692.3,940.9 C694.4,942.0 698.9,946.3 700.1,948.4 C701.2,950.5 702.3,956.5 702.0,958.8 C701.7,961.0 698.9,966.2 697.5,967.9 C696.1,969.5 691.0,971.5 689.9,973.3 C688.9,975.1 688.7,981.0 688.4,983.4 C688.1,985.8 687.9,991.4 687.1,993.8 C686.3,996.2 683.6,1002.2 681.9,1004.2 C680.2,1006.2 675.1,1009.8 672.8,1010.7 C670.5,1011.6 664.7,1012.4 662.4,1012.0 C660.2,1011.5 654.9,1008.4 653.4,1006.8 C651.8,1005.1 649.6,1000.0 649.5,997.7 C649.3,995.4 650.8,989.3 652.1,987.3 C653.3,985.3 658.4,982.5 659.8,980.8 C661.3,979.2 664.1,975.2 664.4,973.0 C664.7,970.9 662.5,965.1 662.4,962.7 C662.4,960.2 662.8,954.7 664.0,952.3 C665.2,949.9 670.7,943.5 672.8,941.9Z" style="stroke:#555;stroke-width:1.4"/>
<path class="l" d="M675.7,945.6 L675.6,945.8 L676.6,945.2 L677.6,944.7 L678.7,944.1 L679.8,943.6 L680.8,943.3 L681.6,943.0 L682.3,942.9 L683.0,942.9 L683.9,943.0 L685.0,943.2 L686.0,943.4 L687.1,943.7 L688.1,944.1 L689.1,944.5 L690.0,944.9 L690.9,945.5 L691.8,946.1 L692.6,946.8 L693.5,947.5 L694.3,948.3 L694.9,949.1 L695.5,949.9 L696.0,950.6 L696.3,951.4 L696.7,952.3 L697.0,953.3 L697.2,954.3 L697.4,955.4 L697.5,956.4 L697.5,957.3 L697.4,958.1 L697.2,958.9 L697.0,959.7 L696.7,960.5 L696.2,961.4 L695.7,962.3 L695.1,963.2 L694.5,964.1 L694.0,964.7 L693.6,965.1 L693.2,965.4 L692.4,965.8 L691.4,966.4 L690.1,967.0 L688.7,967.9 L687.2,969.2 L685.9,970.9 L685.1,972.7 L684.6,974.5 L684.3,976.1 L684.1,977.7 L684.0,979.1 L684.0,980.5 L683.9,981.7 L683.7,982.9 L683.6,984.3 L683.5,985.7 L683.4,987.0 L683.3,988.2 L683.2,989.4 L683.1,990.5 L682.9,991.5 L682.6,992.5 L682.2,993.6 L681.8,994.8 L681.3,996.0 L680.8,997.2 L680.2,998.4 L679.6,999.4 L679.0,1000.4 L678.3,1001.2 L677.6,1002.0 L676.8,1002.7 L675.9,1003.5 L675.0,1004.2 L674.0,1004.8 L673.0,1005.4 L672.0,1005.9 L671.1,1006.3 L670.1,1006.7 L669.1,1007.0 L668.0,1007.2 L667.0,1007.4 L666.0,1007.5 L665.0,1007.6 L664.1,1007.5 L663.4,1007.4 L662.6,1007.2 L661.7,1006.9 L660.8,1006.5 L659.8,1006.0 L658.9,1005.4 L658.1,1004.8 L657.4,1004.2 L656.8,1003.6 L656.3,1003.0 L655.8,1002.3 L655.4,1001.5 L655.0,1000.7 L654.6,999.9 L654.4,999.0 L654.2,998.2 L654.1,997.4 L654.1,996.6 L654.2,995.6 L654.3,994.6 L654.6,993.5 L654.9,992.4 L655.2,991.4 L655.6,990.5 L656.0,989.9 L656.3,989.4 L656.8,989.0 L657.5,988.4 L658.4,987.8 L659.5,987.1 L660.8,986.2 L662.1,985.2 L663.3,984.0 L664.2,983.0 L665.0,982.0 L665.8,980.9 L666.6,979.7 L667.4,978.4 L668.1,977.0 L668.6,975.4 L669.0,973.6 L669.1,971.7 L668.9,969.8 L668.5,968.2 L668.1,966.7 L667.7,965.4 L667.4,964.2 L667.2,963.3 L667.1,962.4 L667.1,961.3 L667.1,960.1 L667.1,959.0 L667.2,958.0 L667.3,957.0 L667.5,956.1 L667.8,955.2 L668.1,954.4 L668.7,953.5 L669.6,952.3 L670.7,951.0 L671.9,949.6 L673.2,948.3 L674.4,947.0 L675.5,945.9Z" style="stroke:#666"/>
<path class="lw" d="M678.7,954.9 L687.1,956.8 L675.7,993.8 L667.2,991.5Z" />
<circle class="lw" cx="650.1" cy="967.9" r="9.3" style="stroke:#444;stroke-width:1.4"/>
<circle class="l" cx="650.1" cy="967.9" r="6.0" />
<circle class="lw" cx="704.0" cy="917.9" r="8.8" style="stroke:#555;stroke-width:1.8"/>
<circle class="l" cx="704.0" cy="917.9" r="3.4" />
<path class="l" d="M700.7,926.3 C700.6,927.6 700.6,932.0 700.1,934.1 C699.5,936.3 697.0,938.0 697.5,939.3 C697.9,940.6 700.9,942.1 702.7,941.9 C704.4,941.7 707.2,939.7 707.9,938.0 C708.5,936.3 706.6,933.5 706.6,931.5 C706.6,929.6 707.6,927.2 707.9,926.3" />
<path class="g" d="M710.4,927.6 C711.1,926.6 716.7,924.8 718.2,925.0 C719.8,925.3 725.4,929.1 726.0,930.2 C726.7,931.4 725.5,935.8 724.7,936.7 C723.9,937.6 719.5,939.4 718.2,939.3 C716.9,939.2 712.5,936.6 711.7,935.4 C711.0,934.2 709.8,928.7 710.4,927.6Z" style="fill:#484848;stroke:#333"/>
<circle class="lw" cx="714.3" cy="928.9" r="2.6" />
<circle class="lw" cx="727.1" cy="922.4" r="5.2" style="stroke:#444;stroke-width:1.5"/>
<circle class="lw" cx="713.0" cy="941.9" r="2.9" />
<circle class="lw" cx="729.9" cy="958.8" r="18.9" style="stroke:#3a3a3a;stroke-width:1.7"/>
<path class="d" d="M714.3,951.0 L728.6,945.8" style="stroke:#444"/>
<path class="d" d="M713.7,957.5 L727.3,952.3" style="stroke:#444"/>
<path class="d" d="M715.6,964.0 L726.0,959.4" style="stroke:#444"/>
<path class="d" d="M718.2,969.8 L726.0,966.6" style="stroke:#444"/>
<path class="l" d="M741.6,941.9 C740.3,943.4 736.2,947.5 733.8,951.0 C731.4,954.4 729.0,958.6 727.3,962.7 C725.6,966.8 724.1,973.5 723.4,975.6" />
<path class="l" d="M746.8,945.8 C745.5,947.3 741.4,951.4 739.0,954.9 C736.6,958.3 734.0,962.9 732.5,966.6 C731.0,970.2 730.3,975.2 729.9,976.9" />
<path class="l" d="M728.6,945.8 C729.5,946.4 731.9,948.2 733.8,949.7 C735.8,951.2 739.2,954.0 740.3,954.9" />
<path class="t" d="M726.0,962.7 C727.1,962.7 730.6,963.1 732.5,962.7 C734.5,962.2 736.8,960.5 737.7,960.1" />
<path class="d" d="M738.7,936.7 L753.9,944.5" />
<path class="d" d="M740.3,933.5 L755.6,941.3" />
<path class="d" d="M742.4,930.5 L756.5,937.8" />
<path class="l" d="M738.7,936.7 L742.4,930.5" />
<path class="l" d="M753.9,944.5 L756.9,937.8" />
<path class="l" d="M744.2,930.9 L752.0,917.9" />
<path class="l" d="M754.6,936.7 L761.1,923.7" />
<path class="t" d="M749.4,933.5 L756.5,920.5" />
<path class="lw" d="M697.5,974.3 L733.8,979.5 L729.9,1004.4 L691.0,994.5Z" style="stroke:#444;stroke-width:1.4"/>
<path class="d" d="M702.7,975.6 L697.5,1000.3" style="stroke:#444"/>
<path class="d" d="M709.2,975.6 L704.0,1000.3" style="stroke:#444"/>
<path class="d" d="M715.6,975.6 L710.4,1000.3" style="stroke:#444"/>
<path class="d" d="M722.1,975.6 L718.2,1000.3" style="stroke:#444"/>
<path class="d" d="M728.0,975.6 L724.5,1000.3" style="stroke:#444"/>
<path class="t" d="M694.9,983.4 L731.2,989.9" />
<path class="t" d="M693.6,988.6 L730.6,996.4" />
<path class="l" d="M733.8,979.8 L744.2,988.9 L741.6,1003.1 L730.2,1004.2" />
<path class="t" d="M736.4,983.4 L733.8,1002.9" />
<path class="t" d="M740.3,986.7 L738.0,1003.1" />
<path class="d" d="M702.7,944.5 L713.0,967.9" style="stroke:#444"/>
<path class="d" d="M706.6,943.2 L714.3,962.7" style="stroke:#444"/>
<path class="d" d="M697.5,973.0 L707.9,969.2" style="stroke:#444"/>
<path class="d" d="M692.3,980.8 L700.1,974.3" style="stroke:#444"/>
<path class="d" d="M707.9,951.0 L713.0,951.0" style="stroke:#444"/>
<path class="l" d="M662.4,1014.8 L684.5,1018.7 L713.0,1018.7" />
<path class="t" d="M668.9,1019.8 L707.9,1024.9" />
<path class="l" d="M684.5,1004.2 L697.5,1006.8 L692.3,1017.8" />
<path class="t" d="M691.0,1002.9 L694.9,1014.6" />
<path class="t" d="M700.1,1010.7 L710.4,1013.3" />
<path class="l" d="M692.3,974.3 L702.7,966.6 L707.9,967.9" />
<!-- labels.svgfrag -->
<g>
<text x="197" y="336" font-size="26.5" textLength="30.5" lengthAdjust="spacingAndGlyphs">25</text>
<rect x="245.5" y="329.8" width="18.5" height="2.2" fill="#2e2e2e"/>
<text x="272.5" y="336" font-size="26.5" textLength="45" lengthAdjust="spacingAndGlyphs">30°</text>
<text x="194" y="376.5" font-size="26" textLength="131" lengthAdjust="spacingAndGlyphs">Hose guide</text>
<text x="803.5" y="935.5" font-size="26.5" textLength="43.5" lengthAdjust="spacingAndGlyphs">14°</text>
<!-- circled A in text -->
<circle cx="669" cy="456" r="12.5" fill="none" stroke="#555" stroke-width="1.2"/>
<text x="661" y="463" font-size="19" textLength="16" lengthAdjust="spacingAndGlyphs">A</text>
</g>

<g class="bt">
<text x="441.5" y="144" textLength="55.0" lengthAdjust="spacingAndGlyphs">Pass</text>
<text x="506.5" y="144" textLength="95.0" lengthAdjust="spacingAndGlyphs">through</text>
<text x="611" y="144" textLength="35" lengthAdjust="spacingAndGlyphs">the</text>
<text x="657.5" y="144" textLength="64.5" lengthAdjust="spacingAndGlyphs">brake</text>
<text x="732.5" y="144" textLength="57.5" lengthAdjust="spacingAndGlyphs">hose</text>
<text x="799.5" y="144" textLength="18.0" lengthAdjust="spacingAndGlyphs">in</text>
<text x="829" y="144" textLength="47" lengthAdjust="spacingAndGlyphs">fron</text>
<text x="886" y="144" textLength="24" lengthAdjust="spacingAndGlyphs">of</text>
<text x="916" y="144" textLength="38" lengthAdjust="spacingAndGlyphs">the</text>
<text x="441.5" y="173" textLength="91.0" lengthAdjust="spacingAndGlyphs">throttle</text>
<text x="557.5" y="173" textLength="72.5" lengthAdjust="spacingAndGlyphs">cable,</text>
<text x="656" y="173" textLength="79" lengthAdjust="spacingAndGlyphs">clutch</text>
<text x="759" y="173" textLength="65" lengthAdjust="spacingAndGlyphs">cable</text>
<text x="847.5" y="173" textLength="45.0" lengthAdjust="spacingAndGlyphs">and</text>
<text x="916" y="173" textLength="36.5" lengthAdjust="spacingAndGlyphs">de-</text>
<text x="441.5" y="201.5" textLength="153.5" lengthAdjust="spacingAndGlyphs">comp.cable.</text>
<text x="509.5" y="435.5" textLength="71.5" lengthAdjust="spacingAndGlyphs">When</text>
<text x="592" y="435.5" textLength="84" lengthAdjust="spacingAndGlyphs">tighten</text>
<text x="687.5" y="435.5" textLength="36.5" lengthAdjust="spacingAndGlyphs">the</text>
<text x="735" y="435.5" textLength="64.5" lengthAdjust="spacingAndGlyphs">brake</text>
<text x="811" y="435.5" textLength="58" lengthAdjust="spacingAndGlyphs">hose</text>
<text x="879.5" y="435.5" textLength="79.5" lengthAdjust="spacingAndGlyphs">clamp,</text>
<text x="969" y="435.5" textLength="55.5" lengthAdjust="spacingAndGlyphs">align</text>
<text x="509.5" y="463.5" textLength="36.5" lengthAdjust="spacingAndGlyphs">the</text>
<text x="557" y="463.5" textLength="89" lengthAdjust="spacingAndGlyphs">bottom</text>
<text x="692.5" y="463.5" textLength="25.0" lengthAdjust="spacingAndGlyphs">of</text>
<text x="727.5" y="463.5" textLength="37.0" lengthAdjust="spacingAndGlyphs">the</text>
<text x="774" y="463.5" textLength="57" lengthAdjust="spacingAndGlyphs">thick</text>
<text x="842.5" y="463.5" textLength="57.5" lengthAdjust="spacingAndGlyphs">hose</text>
<text x="910" y="463.5" textLength="52.5" lengthAdjust="spacingAndGlyphs">tube</text>
<text x="974.5" y="463.5" textLength="50.0" lengthAdjust="spacingAndGlyphs">with</text>
<text x="509.5" y="491" textLength="88.0" lengthAdjust="spacingAndGlyphs">bottom</text>
<text x="607.5" y="491" textLength="23.5" lengthAdjust="spacingAndGlyphs">of</text>
<text x="640" y="491" textLength="36" lengthAdjust="spacingAndGlyphs">the</text>
<text x="685" y="491" textLength="80" lengthAdjust="spacingAndGlyphs">clamp.</text>
<text x="583.5" y="1064" textLength="59.0" lengthAdjust="spacingAndGlyphs">After</text>
<text x="661" y="1064" textLength="106.5" lengthAdjust="spacingAndGlyphs">touching</text>
<text x="785" y="1064" textLength="36" lengthAdjust="spacingAndGlyphs">the</text>
<text x="837" y="1064" textLength="65.5" lengthAdjust="spacingAndGlyphs">brake</text>
<text x="920" y="1064" textLength="56" lengthAdjust="spacingAndGlyphs">hose</text>
<text x="992.5" y="1064" textLength="63.5" lengthAdjust="spacingAndGlyphs">union</text>
<text x="1075" y="1064" textLength="21" lengthAdjust="spacingAndGlyphs">to</text>
<text x="582.5" y="1092.5" textLength="36.5" lengthAdjust="spacingAndGlyphs">the</text>
<text x="632.5" y="1092.5" textLength="98.5" lengthAdjust="spacingAndGlyphs">stopper,</text>
<text x="745" y="1092.5" textLength="85" lengthAdjust="spacingAndGlyphs">tighten</text>
<text x="842" y="1092.5" textLength="35.5" lengthAdjust="spacingAndGlyphs">the</text>
<text x="891" y="1092.5" textLength="64" lengthAdjust="spacingAndGlyphs">union</text>
<text x="969" y="1092.5" textLength="45" lengthAdjust="spacingAndGlyphs">bolt</text>
<text x="1026" y="1092.5" textLength="21.5" lengthAdjust="spacingAndGlyphs">to</text>
<text x="1060" y="1092.5" textLength="36" lengthAdjust="spacingAndGlyphs">the</text>
<text x="582.5" y="1121" textLength="108.5" lengthAdjust="spacingAndGlyphs">specified</text>
<text x="701" y="1121" textLength="81.5" lengthAdjust="spacingAndGlyphs">torque.</text>
</g>
</svg>
</body></html>
